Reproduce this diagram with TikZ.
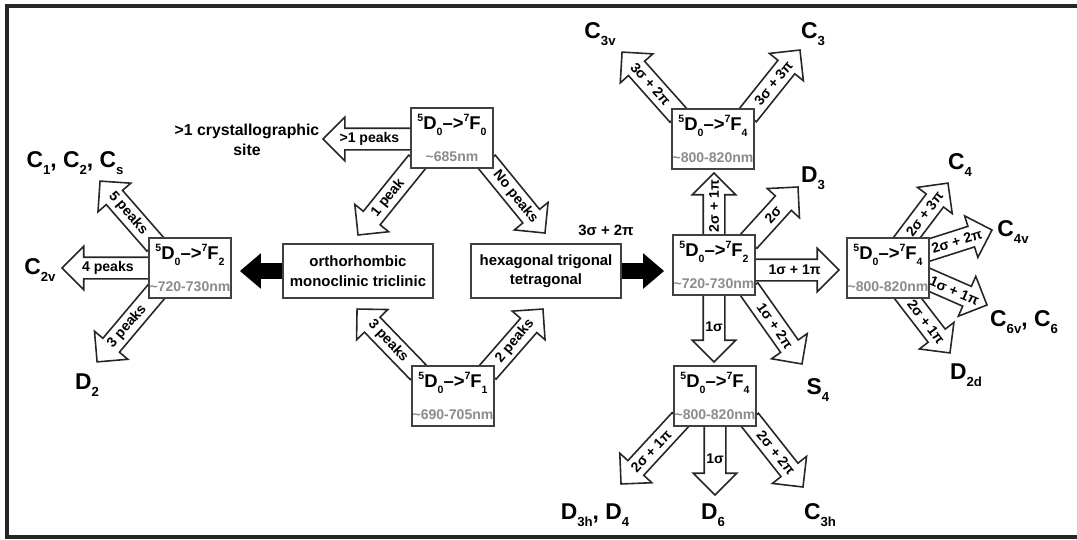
\documentclass[tikz,border=0pt]{standalone}
\usepackage{fontspec}
\setmainfont{Liberation Sans}
\usetikzlibrary{calc,shapes.arrows,arrows.meta,backgrounds}

\newcommand{\lowsub}[2][7.5]{\raisebox{-.55ex}{\fontsize{#1}{#1}\selectfont #2}}
\newcommand{\upsup}[1]{\raisebox{.85ex}{\fontsize{6}{6}\selectfont #1}}
\newcommand{\trans}[1]{{\fontsize{10.5}{12}\selectfont\upsup{5}D\lowsub[6]{0}\textendash>\upsup{7}F\lowsub[6]{#1}}}
\newcommand{\wavelen}[1]{{\fontsize{8}{9}\selectfont\color{black!45}\textasciitilde #1nm}}

% hollow arrow: tail, tip, text, text angle
\newcommand{\fatarrow}[4]{%
  \begin{pgfonlayer}{background}
  \path let \p1=(#1), \p2=(#2),
    \n1={atan2(\y2-\y1,\x2-\x1)}, \n2={veclen(\x2-\x1,\y2-\y1)} in
    node[hollow arrow, rotate=\n1, minimum height=\n2, anchor=tail] at (\p1) {};
  \end{pgfonlayer}
  \node[arrow text, rotate=#4] at ($(#1)!0.49!(#2)$) {#3};}

\begin{document}
\begin{tikzpicture}[x=0.02cm, y=-0.02cm,
    levelbox/.style={draw=black!75, line width=1.1pt, fill=white, minimum width=1.64cm,
      minimum height=1.2cm, align=center, inner sep=0pt, font=\bfseries},
    classbox/.style={levelbox, minimum width=3cm, minimum height=1.08cm,
      font=\bfseries\fontsize{8.5}{11}\selectfont},
    symlabel/.style={font=\bfseries\fontsize{13}{15}\selectfont, inner sep=0pt},
    hollow arrow/.style={single arrow, draw=black!85, fill=white, line width=0.9pt,
      inner xsep=0pt, inner ysep=0.2cm, outer sep=0pt,
      single arrow head extend=0.22cm, single arrow tip angle=90},
    arrow text/.style={font=\bfseries\fontsize{8}{9}\selectfont, inner sep=0pt},
    solid arrow/.style={line width=9pt, -{Triangle[length=12pt,width=19.5pt]}, shorten >=4.5pt},
    border line/.style={line width=1.8pt, black!85}]

\useasboundingbox (0,0) rectangle (1077,539);
\draw[border line] (1077,6) -- (7,6) -- (7,537) -- (1077,537);

% level boxes
\node[levelbox] (f0) at (452,138) {\trans{0}\\[6pt]\wavelen{685}};
\node[levelbox] (f1) at (453,396) {\trans{1}\\[6pt]\wavelen{690-705}};
\node[levelbox] (f2l) at (190,268) {\trans{2}\\[6pt]\wavelen{720-730}};
\node[levelbox] (f2r) at (714,265) {\trans{2}\\[6pt]\wavelen{720-730}};
\node[levelbox] (f4t) at (713,139) {\trans{4}\\[6pt]\wavelen{800-820}};
\node[levelbox] (f4b) at (715,396) {\trans{4}\\[6pt]\wavelen{800-820}};
\node[levelbox] (f4r) at (888,268) {\trans{4}\\[6pt]\wavelen{800-820}};
\node[classbox] (orth) at (358,271) {orthorhombic\\monoclinic triclinic};
\node[classbox] (hexa) at (546,271) {hexagonal trigonal\\tetragonal};

% site symmetry labels
\node[symlabel] (c1) at (75,163) {C\lowsub{1}, C\lowsub{2}, C\lowsub{s}};
\node[symlabel] (c2v) at (40,270) {C\lowsub{2v}};
\node[symlabel] (d2) at (87,385) {D\lowsub{2}};
\node[symlabel] (c3v) at (600,34) {C\lowsub{3v}};
\node[symlabel] (c3) at (813,34) {C\lowsub{3}};
\node[symlabel] (d3) at (813,178) {D\lowsub{3}};
\node[symlabel] (s4) at (818,390) {S\lowsub{4}};
\node[symlabel] (d3h) at (595,515) {D\lowsub{3h}, D\lowsub{4}};
\node[symlabel] (d6) at (713,515) {D\lowsub{6}};
\node[symlabel] (c3h) at (820,515) {C\lowsub{3h}};
\node[symlabel] (c4) at (960,165) {C\lowsub{4}};
\node[symlabel] (c4v) at (1013,232) {C\lowsub{4v}};
\node[symlabel] (c6v) at (1024,322) {C\lowsub{6v}, C\lowsub{6}};
\node[symlabel] (d2d) at (966,375) {D\lowsub{2d}};
\node[align=center, font=\bfseries\fontsize{9}{11}\selectfont] (site) at (247,140) {>1 crystallographic\\site};
\node[font=\bfseries\fontsize{8.5}{10}\selectfont] (sigpi) at (606,230) {3σ + 2π};

% arrow tips
\coordinate (tc1) at (100,181);
\coordinate (tc2v) at (62,268);
\coordinate (td2) at (97,362);
\coordinate (tsite) at (323,139);
\coordinate (td3) at (798,187);
\coordinate (ts4) at (802,364);
\coordinate (tc3v) at (622,52);
\coordinate (tc3) at (800,50);
\coordinate (td3h) at (621,484);
\coordinate (td6) at (715,495);
\coordinate (tc3h) at (803,487);
\coordinate (tc4) at (948,183);
\coordinate (tc4v) at (992,230);
\coordinate (tc6v) at (987,305);
\coordinate (td2d) at (950,353);

\fatarrow{$(f2l.north west)+(7,7)$}{tc1}{5 peaks}{-49}
\fatarrow{$(f2l.west)+(4,0)$}{tc2v}{4 peaks}{0}
\fatarrow{$(f2l.south west)+(8,-7)$}{td2}{3 peaks}{49}
\fatarrow{$(f0.west)+(4,1)$}{tsite}{>1 peaks}{0}
\fatarrow{$(f0.south west)+(7,-7)$}{$(orth.north)+(0,-8)$}{1 peak}{51}
\fatarrow{$(f0.south east)+(-7,-7)$}{$(hexa.north)+(-1,-10)$}{No peaks}{-51}
\fatarrow{$(f1.north west)+(7,7)$}{$(orth.south)+(-1,10)$}{3 peaks}{-47}
\fatarrow{$(f1.north east)+(-7,7)$}{$(hexa.south)+(-3,10)$}{2 peaks}{50}
\fatarrow{$(f2r.north)+(0,4)$}{$(f4t.south)+(1,3)$}{2σ + 1π}{90}
\fatarrow{$(f2r.north east)+(-7,7)$}{td3}{2σ}{48}
\fatarrow{$(f2r.east)+(-4,5)$}{$(f4r.west)+(-7,2)$}{1σ + 1π}{0}
\fatarrow{$(f2r.south east)+(-7,-7)$}{ts4}{1σ + 2π}{-55}
\fatarrow{$(f2r.south)+(0,-4)$}{$(f4b.north)+(-1,-3)$}{1σ}{0}
\fatarrow{$(f4t.north west)+(7,7)$}{tc3v}{3σ + 2π}{-48}
\fatarrow{$(f4t.north east)+(-7,7)$}{tc3}{3σ + 3π}{51}
\fatarrow{$(f4b.south west)+(7,-7)$}{td3h}{2σ + 1π}{47}
\fatarrow{$(f4b.south)+(0,-4)$}{td6}{1σ}{0}
\fatarrow{$(f4b.south east)+(-7,-7)$}{tc3h}{2σ + 2π}{-51}
\fatarrow{$(f4r.north)+(14,7)$}{tc4}{2σ + 3π}{53}
\fatarrow{$(f4r.east)+(-7,-16)$}{tc4v}{2σ + 2π}{17}
\fatarrow{$(f4r.east)+(-7,9)$}{tc6v}{1σ + 1π}{-23}
\fatarrow{$(f4r.south)+(15,-7)$}{td2d}{2σ + 1π}{-53}

\draw[solid arrow] (orth.west) -- (orth.west -| f2l.east);
\draw[solid arrow] (hexa.east) -- (hexa.east -| f2r.west);
\end{tikzpicture}
\end{document}
